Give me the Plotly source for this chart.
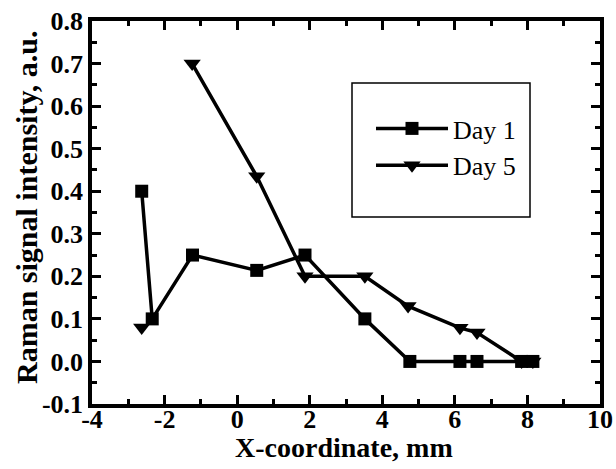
import plotly.graph_objects as go

x_day1 = [-2.63, -2.34, -1.23, 0.54, 1.87, 3.52, 4.76, 6.14, 6.61, 7.84, 8.15]
y_day1 = [0.40, 0.10, 0.25, 0.214, 0.25, 0.10, 0.0, 0.0, 0.0, 0.0, 0.0]

x_day5 = [-2.63, None, -1.24, 0.54, 1.87, 3.52, 4.71, 6.14, 6.61, 7.84, 8.15]
y_day5 = [0.08, None, 0.70, 0.435, 0.20, 0.20, 0.13, 0.079, 0.068, 0.0, 0.0]

x_ticks = [-4, -2, 0, 2, 4, 6, 8, 10]
x_ticklabels = ["-4", "-2", "0", "2", "4", "6", "8", "10"]
y_ticks = [-0.1, 0.0, 0.1, 0.2, 0.3, 0.4, 0.5, 0.6, 0.7, 0.8]
y_ticklabels = ["-0.1", "0.0", "0.1", "0.2", "0.3", "0.4", "0.5", "0.6", "0.7", "0.8"]

x_title = "X-coordinate, mm"
y_title = "Raman signal intensity, a.u."

font_fam = "Liberation Serif, Times New Roman, serif"

fig = go.Figure()
fig.add_trace(go.Scatter(x=x_day1, y=y_day1, mode="lines+markers", name="Day 1",
                         line=dict(color="black", width=3.5),
                         marker=dict(symbol="square", size=13, color="black")))
fig.add_trace(go.Scatter(x=x_day5, y=y_day5, mode="lines+markers", name="Day 5",
                         connectgaps=False,
                         line=dict(color="black", width=3.5),
                         marker=dict(symbol="triangle-down", size=15, color="black")))

axis_common = dict(showline=True, linecolor="black", linewidth=3.5, mirror="allticks",
                   ticks="inside", ticklen=9, tickwidth=3, tickcolor="black",
                   showgrid=False, zeroline=False, automargin=False,
                   tickfont=dict(family=font_fam, size=26, color="black"))

fig.update_xaxes(range=[-4, 10], tickmode="array", tickvals=x_ticks,
                 ticktext=["<b>%s</b>" % t for t in x_ticklabels],
                 ticklabelstandoff=-11,
                 minor=dict(dtick=1, tick0=-4, ticks="inside", ticklen=5, tickwidth=3, tickcolor="black"),
                 **axis_common)
fig.update_yaxes(range=[-0.1, 0.8], tickmode="array", tickvals=y_ticks,
                 ticktext=["<b>%s</b>" % t for t in y_ticklabels],
                 minor=dict(dtick=0.05, tick0=0, ticks="inside", ticklen=5, tickwidth=3, tickcolor="black"),
                 **axis_common)

fig.add_annotation(text="<b>%s</b>" % x_title, xref="paper", yref="paper",
                   x=(344 - 92) / 508, y=(404 - 448) / 383,
                   xanchor="center", yanchor="middle", showarrow=False,
                   font=dict(family=font_fam, size=28, color="black"))
fig.add_annotation(text="<b>%s</b>" % y_title, xref="paper", yref="paper",
                   x=(26 - 92) / 508, y=(404 - 208) / 383, textangle=-90,
                   xanchor="center", yanchor="middle", showarrow=False,
                   font=dict(family=font_fam, size=30, color="black"))

fig.add_shape(type="rect", xref="paper", yref="paper",
              x0=(352 - 92) / 508, x1=(530 - 92) / 508,
              y0=(404 - 217) / 383, y1=(404 - 83) / 383,
              line=dict(color="black", width=1.5), fillcolor="rgba(0,0,0,0)")

fig.update_layout(width=616, height=469,
                  margin=dict(l=92, r=16, t=21, b=65),
                  plot_bgcolor="white", paper_bgcolor="white",
                  showlegend=True,
                  legend=dict(x=(371 - 92) / 508, y=(404 - 105) / 383,
                              xanchor="left", yanchor="top",
                              bgcolor="rgba(0,0,0,0)", borderwidth=0,
                              tracegroupgap=0, itemwidth=72,
                              font=dict(family=font_fam, size=26, color="black")))

fig.write_html("out.html")
